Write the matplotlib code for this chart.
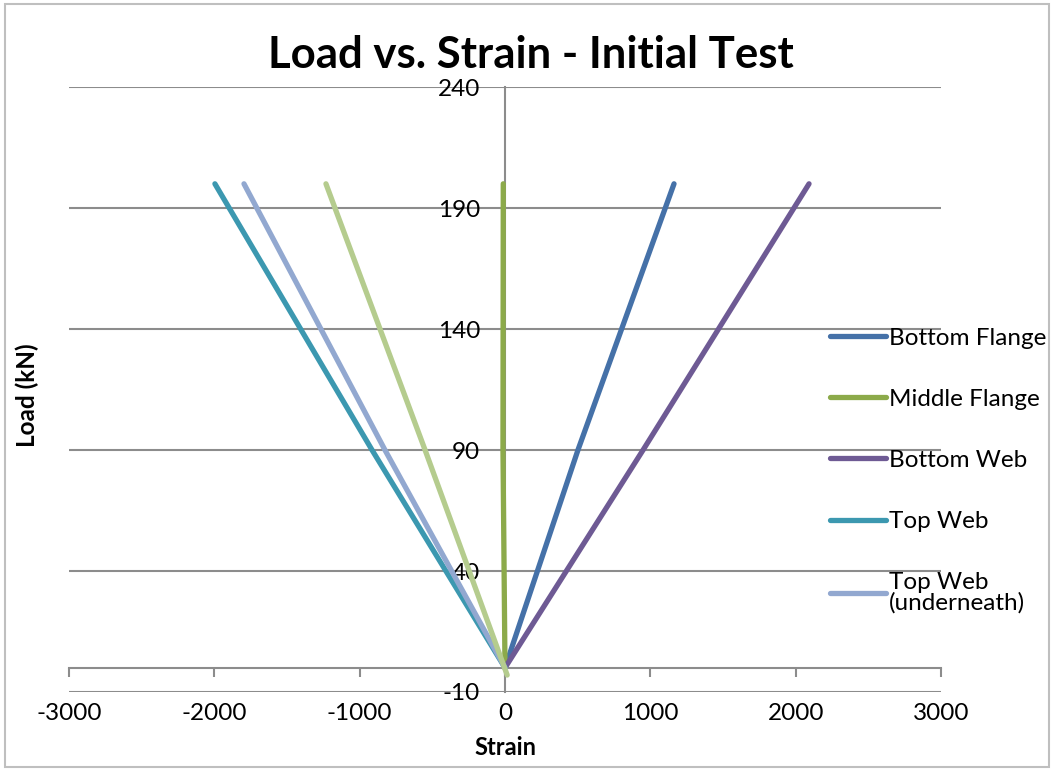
import matplotlib.pyplot as plt
from matplotlib.patches import Rectangle

plt.rcParams['font.family'] = ['Lato', 'DejaVu Sans']
plt.rcParams['axes.unicode_minus'] = False

# load steps (kN) and strain readings for each gauge
load = [0, 90, 200]
bottom_flange = [0, 502, 1163]
middle_flange = [0, -14, -12]
bottom_web = [0, 950, 2092]
top_web = [0, -915, -1996]
top_web_under = [0, -826, -1796]
extra_load = [-3, 90, 200]
extra_gauge = [15, -550, -1232]

series = [
    ("Bottom Flange", load, bottom_flange, "#4571a8"),
    ("Middle Flange", load, middle_flange, "#8caa4a"),
    ("Bottom Web", load, bottom_web, "#6e5a94"),
    ("Top Web", load, top_web, "#3c98b0"),
    ("Top Web\n(underneath)", load, top_web_under, "#92a8d0"),
]

fig = plt.figure(figsize=(10.54, 7.69), dpi=100)
ax = fig.add_axes([69 / 1054, 1 - 692 / 769, 872 / 1054, 605 / 769])

grid_c = "#8c8c8c"
for lab, y, x, c in series:
    ax.plot(x, y, color=c, lw=3.8, solid_capstyle="round", label=lab, zorder=3)
ax.plot(extra_gauge, extra_load, color="#b5cc8e", lw=3.8,
        solid_capstyle="round", zorder=3)

ax.set_xlim(-3000, 3000)
ax.set_ylim(-10, 240)
ax.set_xticks(range(-3000, 3001, 1000))
ax.set_yticks(range(-10, 241, 50))
ax.yaxis.grid(True, color=grid_c, lw=1.5)
for gl in ax.get_ygridlines():
    gl.set_clip_on(False)

for s in ["top", "right"]:
    ax.spines[s].set_visible(False)
ax.spines["left"].set_position(("data", 0))
ax.spines["bottom"].set_position(("data", 0))
ax.spines["left"].set_color(grid_c)
ax.spines["bottom"].set_color(grid_c)
ax.spines["left"].set_linewidth(1.5)
ax.spines["bottom"].set_linewidth(1.5)

ax.tick_params(axis="x", direction="out", length=6.5, width=1.5, color=grid_c,
               pad=19, labelsize=17.5)
ax.tick_params(axis="y", length=0, pad=18, labelsize=17.5)

ax.set_xlabel("Strain", fontsize=17, fontweight="bold")
ax.xaxis.set_label_coords(0.5, -0.073)
ax.set_ylabel("Load (kN)", fontsize=17.5, fontweight="bold")
ax.yaxis.set_label_coords(-0.034, 0.49)

fig.text(531 / 1054, 1 - 55 / 769, "Load vs. Strain - Initial Test",
         fontsize=31.5, fontweight="bold", ha="center", va="center")

leg = ax.legend(loc="upper left", bbox_to_anchor=(820 / 1054, 1 - 318 / 769),
                bbox_transform=fig.transFigure, frameon=False, fontsize=17.5,
                handlelength=2.3, handletextpad=0.12, labelspacing=1.65,
                borderaxespad=0)
for t in leg.get_texts():
    t.set_linespacing(0.95)

fig.patches.append(Rectangle((5 / 1054, 2 / 769), 1044 / 1054, 763 / 769,
                             transform=fig.transFigure, fill=False,
                             edgecolor="#bfbfbf", lw=1.5))

fig.savefig("out.png", dpi=100)
